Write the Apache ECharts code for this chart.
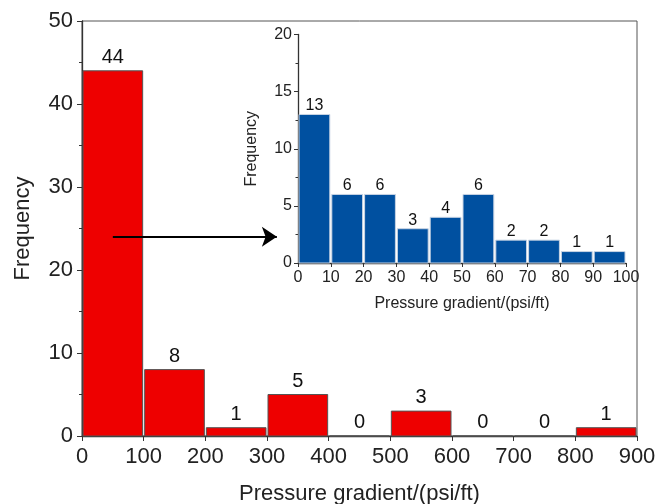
<!DOCTYPE html>
<html>
<head>
<meta charset="utf-8">
<script src="https://cdn.jsdelivr.net/npm/echarts@6/dist/echarts.min.js"></script>
<style>
  html, body { margin: 0; padding: 0; background: #fff; }
  #chart { width: 659px; height: 504px; }
</style>
</head>
<body>
<div id="chart"></div>
<script>
// main histogram: bin edges and counts
var mainEdges = [0, 100, 200, 300, 400, 500, 600, 700, 800, 900];
var mainCounts = [44, 8, 1, 5, 0, 3, 0, 0, 1];
// inset histogram (0-100 psi/ft zoomed in)
var insetEdges = [0, 10, 20, 30, 40, 50, 60, 70, 80, 90, 100];
var insetCounts = [13, 6, 6, 3, 4, 6, 2, 2, 1, 1];
// arrow from the first main bar to the inset
var arrowFrom = [50, 24];
var arrowTo = [316, 24];

var FONT = 'Arial, "Liberation Sans", sans-serif';

function toBins(edges, counts) {
  return counts.map(function (c, i) {
    return [edges[i], edges[i + 1], c];
  });
}

function binRenderer(fill, stroke, fontSize, dist) {
  return function (params, api) {
    var lo = api.coord([api.value(0), 0]);
    var hi = api.coord([api.value(1), api.value(2)]);
    return {
      type: 'rect',
      shape: { x: lo[0] + 1, y: hi[1], width: hi[0] - lo[0] - 2, height: lo[1] - hi[1] },
      style: { fill: fill, stroke: stroke, lineWidth: 1 },
      textContent: {
        style: { text: String(api.value(2)), fill: '#111', font: fontSize + 'px ' + FONT }
      },
      textConfig: { position: 'top', distance: dist }
    };
  };
}

var axisLine = { lineStyle: { color: '#333', width: 1.3 } };

var chart = echarts.init(document.getElementById('chart'));
chart.setOption({
  animation: false,
  textStyle: { fontFamily: FONT },
  grid: [
    { left: 82, right: 22, top: 21, bottom: 68, show: true, borderColor: '#555', borderWidth: 1,
      outerBoundsMode: 'none', containLabel: false },
    { left: 298, right: 33, top: 34.5, bottom: 241, outerBoundsMode: 'none', containLabel: false }
  ],
  xAxis: [
    {
      gridIndex: 0, type: 'value', min: 0, max: 900, interval: 100,
      name: 'Pressure gradient/(psi/ft)', nameLocation: 'middle', nameGap: 47,
      nameTextStyle: { fontSize: 22, color: '#222' },
      axisLine: axisLine,
      axisTick: { length: 5, lineStyle: { color: '#333' } },
      axisLabel: { fontSize: 22, color: '#222', margin: 10 },
      splitLine: { show: false }
    },
    {
      gridIndex: 1, type: 'value', min: 0, max: 100, interval: 10,
      name: 'Pressure gradient/(psi/ft)', nameLocation: 'middle', nameGap: 33,
      nameTextStyle: { fontSize: 16, color: '#222' },
      axisLine: axisLine,
      axisTick: { length: 4, lineStyle: { color: '#333' } },
      axisLabel: { fontSize: 16, color: '#222', margin: 7 },
      splitLine: { show: false }
    }
  ],
  yAxis: [
    {
      gridIndex: 0, type: 'value', min: 0, max: 50, interval: 10,
      name: 'Frequency', nameLocation: 'middle', nameGap: 48,
      nameTextStyle: { fontSize: 22, color: '#222' },
      axisLine: axisLine,
      axisTick: { length: 5, lineStyle: { color: '#333' } },
      minorTick: { show: true, splitNumber: 2, length: 3, lineStyle: { color: '#333' } },
      axisLabel: { fontSize: 22, color: '#222', margin: 9 },
      splitLine: { show: false }
    },
    {
      gridIndex: 1, type: 'value', min: 0, max: 20, interval: 5,
      name: 'Frequency', nameLocation: 'middle', nameGap: 38,
      nameTextStyle: { fontSize: 16, color: '#222' },
      axisLine: axisLine,
      axisTick: { length: 4, lineStyle: { color: '#333' } },
      minorTick: { show: true, splitNumber: 2, length: 2.5, lineStyle: { color: '#333' } },
      axisLabel: { fontSize: 16, color: '#222', margin: 6 },
      splitLine: { show: false }
    }
  ],
  series: [
    {
      type: 'custom', xAxisIndex: 0, yAxisIndex: 0,
      renderItem: binRenderer('#ee0000', '#555', 20, 3),
      data: toBins(mainEdges, mainCounts)
    },
    {
      type: 'custom', xAxisIndex: 1, yAxisIndex: 1,
      renderItem: binRenderer('#0050a0', '#c8d4e4', 16, 0),
      data: toBins(insetEdges, insetCounts)
    },
    {
      type: 'lines', coordinateSystem: 'cartesian2d', xAxisIndex: 0, yAxisIndex: 0,
      symbol: ['none', 'arrow'], symbolSize: 15,
      lineStyle: { color: '#000', width: 2, opacity: 1 },
      data: [{ coords: [arrowFrom, arrowTo] }],
      z: 5
    }
  ]
});
</script>
</body>
</html>
